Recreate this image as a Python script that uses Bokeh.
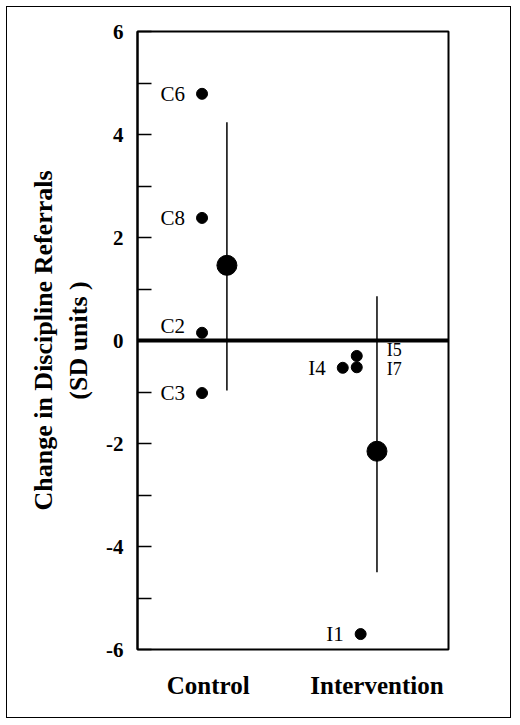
#!/usr/bin/env python3
# -*- coding: utf-8 -*-
from bokeh.core.properties import value
from bokeh.embed import file_html
from bokeh.models import ColumnDataSource, FixedTicker, Range1d, Span
from bokeh.plotting import figure
from bokeh.resources import INLINE

# data
group_names = ["Control", "Intervention"]
group_pos = [0.91, 3.08]
group_means = [1.46, -2.15]
group_lower = [-0.97, -4.50]
group_upper = [4.24, 0.86]
mean_shift = [0.24, 0.0]

control_labels = ["C6", "C8", "C2", "C3"]
control_values = [4.79, 2.38, 0.15, -1.02]
control_jitter = [-0.08, -0.08, -0.08, -0.08]

intervention_labels = ["I5", "I7", "I4", "I1"]
intervention_values = [-0.30, -0.52, -0.53, -5.70]
intervention_jitter = [-0.26, -0.26, -0.44, -0.21]

y_ticks = [-6, -4, -2, 0, 2, 4, 6]
y_minor = [-5, -3, -1, 1, 3, 5]

SERIF = "Liberation Serif"

p = figure(
    width=505,
    height=712,
    x_range=Range1d(0, 4),
    y_range=Range1d(-6, 6),
    toolbar_location=None,
    output_backend="svg",
    min_border_left=130,
    min_border_right=64,
    min_border_top=24,
    min_border_bottom=70,
)
p.styles = {"border": "1.5px solid black", "margin-left": "6px", "margin-top": "6px"}
p.grid.visible = False
p.outline_line_color = "black"
p.outline_line_width = 2

# y axis: ticks inside the frame, labels on even values
p.yaxis.ticker = FixedTicker(ticks=y_ticks, minor_ticks=y_minor)
p.yaxis.major_label_overrides = {t: str(t) for t in y_ticks}
p.yaxis.major_tick_in = 14
p.yaxis.major_tick_out = 0
p.yaxis.minor_tick_in = 14
p.yaxis.minor_tick_out = 0
p.yaxis.major_tick_line_width = 1.5
p.yaxis.minor_tick_line_width = 1.5
p.yaxis.axis_line_width = 2
p.yaxis.major_label_text_font = SERIF
p.yaxis.major_label_text_font_style = "bold"
p.yaxis.major_label_text_font_size = "21px"
p.yaxis.major_label_text_color = "black"
p.yaxis.major_label_standoff = 14
p.yaxis.axis_label = "Change in Discipline Referrals\n(SD units )"
p.yaxis.axis_label_text_font = SERIF
p.yaxis.axis_label_text_font_style = "bold"
p.yaxis.axis_label_text_font_size = "26px"
p.yaxis.axis_label_text_color = "black"
p.yaxis.axis_label_standoff = 10

# x axis: group names only
p.xaxis.ticker = FixedTicker(ticks=group_pos)
p.xaxis.major_label_overrides = {pos: name for pos, name in zip(group_pos, group_names)}
p.xaxis.major_tick_line_color = None
p.xaxis.minor_tick_line_color = None
p.xaxis.axis_line_color = None
p.xaxis.major_label_text_font = SERIF
p.xaxis.major_label_text_font_style = "bold"
p.xaxis.major_label_text_font_size = "25px"
p.xaxis.major_label_text_color = "black"
p.xaxis.major_label_standoff = 16

# zero line
p.add_layout(Span(location=0, dimension="width", line_color="black", line_width=4))

# means with ranges
mean_x = [g + s for g, s in zip(group_pos, mean_shift)]
mean_src = ColumnDataSource(data=dict(x=mean_x, m=group_means, lo=group_lower, hi=group_upper))
p.segment(x0="x", y0="lo", x1="x", y1="hi", source=mean_src, line_color="black", line_width=1.5)
p.scatter(x="x", y="m", source=mean_src, size=20, color="black")

# individual schools
ctrl_src = ColumnDataSource(data=dict(
    x=[group_pos[0] + j for j in control_jitter], y=control_values, label=control_labels,
    dy=[0, 0, -7, 0]))
p.scatter(x="x", y="y", source=ctrl_src, size=11, color="black")
p.text(x="x", y="y", text="label", source=ctrl_src, x_offset=-17, y_offset="dy", text_align="right",
       text_baseline="middle", text_font=value(SERIF), text_font_size="21px", text_color="black")

int_x = [group_pos[1] + j for j in intervention_jitter]
p.scatter(x=int_x, y=intervention_values, size=11, color="black")

left_src = ColumnDataSource(data=dict(x=int_x[2:], y=intervention_values[2:], label=intervention_labels[2:]))
p.text(x="x", y="y", text="label", source=left_src, x_offset=-17, text_align="right",
       text_baseline="middle", text_font=value(SERIF), text_font_size="21px", text_color="black")

right_src = ColumnDataSource(data=dict(x=int_x[:2], y=intervention_values[:2], label=intervention_labels[:2],
                                       dy=[-6, 2]))
p.text(x="x", y="y", text="label", source=right_src, x_offset=30, y_offset="dy", text_align="left",
       text_baseline="middle", text_font=value(SERIF), text_font_size="18px", text_color="black")

open("out.html", "w").write(file_html(p, INLINE))
